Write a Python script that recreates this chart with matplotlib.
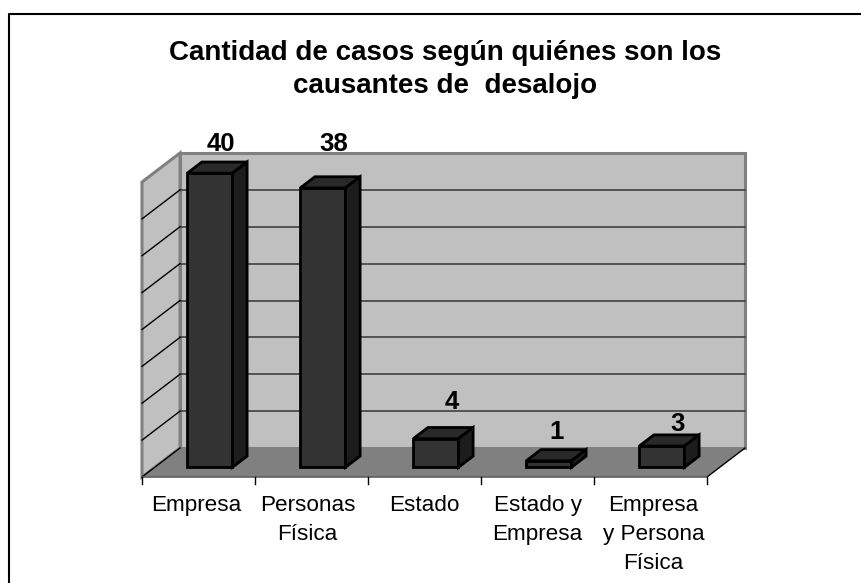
import matplotlib
matplotlib.use("Agg")
import matplotlib.pyplot as plt
from matplotlib.patches import Polygon

# datos
categorias = ["Empresa", "Personas\nFísica", "Estado", "Estado y\nEmpresa", "Empresa\ny Persona\nFísica"]
casos = [40, 38, 4, 1, 3]
ticks_y = [0, 5, 10, 15, 20, 25, 30, 35, 40]
titulo = "Cantidad de casos según quiénes son los\ncausantes de  desalojo"

W, H = 861, 583
plt.rcParams['font.family'] = ['Liberation Sans', 'DejaVu Sans']

fig = plt.figure(figsize=(W / 100, H / 100), dpi=100)
# eje principal: x en categorias, y en casos (plano frontal)
ax = fig.add_axes([142 / W, 1 - 477 / H, 565 / W, 295 / H])
ax.set_xlim(0, len(categorias))
ax.set_ylim(0, ticks_y[-1])
ax.axis("off")

# desplazamiento oblicuo de la profundidad total, en unidades de datos
DX = 38 / 113
DY = 40 * 29 / 295


def p(x, v, d):
    return (x + d * DX, v + d * DY)


def cara(puntos, **kw):
    ax.add_patch(Polygon(puntos, closed=True, clip_on=False, **kw))


n = len(categorias)
top = ticks_y[-1]

# paredes y piso
cara([p(0, 0, 1), p(n, 0, 1), p(n, top, 1), p(0, top, 1)], fc="#c0c0c0", ec="#808080", lw=2.2, zorder=1)
cara([p(0, 0, 0), p(0, 0, 1), p(0, top, 1), p(0, top, 0)], fc="#c0c0c0", ec="#808080", lw=2.2, zorder=1)
cara([p(0, 0, 0), p(n, 0, 0), p(n, 0, 1), p(0, 0, 1)], fc="#808080", ec="none", zorder=2)
ax.plot(*zip(p(n, 0, 0), p(n, 0, 1)), color="black", lw=1, zorder=2, clip_on=False)
ax.plot(*zip(p(0, 0, 0), p(0, 0, 1)), color="black", lw=1, zorder=2, clip_on=False)

# lineas de division
for t in ticks_y[1:-1]:
    ax.plot(*zip(p(0, t, 1), p(n, t, 1)), color="#404040", lw=1.2, zorder=1.5, clip_on=False)
    ax.plot(*zip(p(0, t, 0), p(0, t, 1)), color="black", lw=1, zorder=1.5, clip_on=False)

# eje x con marcas
ax.plot([0, n], [0, 0], color="#606060", lw=1.2, zorder=3, clip_on=False)
for i in range(n + 1):
    ax.plot([i, i], [0, -7 * 40 / 295], color="black", lw=1, zorder=3, clip_on=False)

# barras
ANCHO = 0.4
D0, D1 = 0.335, 0.72
# ajuste a mano de los rotulos, en pixeles
ajuste_rotulo = [(-5, 17), (-6, 32), (0, 24), (-9, 16), (-1, 10)]
ajuste_cat = [-2, -4, 0, 0, 3]
for i, v in enumerate(casos):
    x0 = i + 0.5 - ANCHO / 2 - 0.012
    x1 = x0 + ANCHO
    alto = v - 0.12
    estilo = dict(ec="black", lw=2, joinstyle="miter", zorder=4 + i)
    cara([p(x0, 0, D0), p(x1, 0, D0), p(x1, alto, D0), p(x0, alto, D0)], fc="#333333", **estilo)
    cara([p(x0, alto, D0), p(x1, alto, D0), p(x1, alto, D1), p(x0, alto, D1)], fc="#292929", **estilo)
    cara([p(x1, 0, D0), p(x1, 0, D1), p(x1, alto, D1), p(x1, alto, D0)], fc="#1c1c1c", **estilo)
    tx, ty = p(i + 0.5, v, 0.73)
    dx, dy = ajuste_rotulo[i]
    ax.annotate(str(v), (tx, ty), xytext=(dx * 0.72, dy * 0.72), textcoords="offset points", ha="center",
                va="center", fontsize=18.5, fontweight="bold", color="black", zorder=20, annotation_clip=False)

# etiquetas de categorias
for i, c in enumerate(categorias):
    ax.annotate(c, (i + 0.5, 0), xytext=(ajuste_cat[i] * 0.72, -13), textcoords="offset points", ha="center",
                va="top", fontsize=16.2, linespacing=1.5, color="black", annotation_clip=False)

# titulo
fig.text(445 / W, 1 - 69.5 / H, titulo, ha="center", va="center", fontsize=20, fontweight="bold",
         linespacing=1.35, color="black")

# marco exterior: solo arriba e izquierda, el resto queda fuera de la imagen
fig.add_artist(plt.Line2D([8.5 / W, 8.5 / W, 1], [0, 1 - 13.5 / H, 1 - 13.5 / H], transform=fig.transFigure,
                          color="black", lw=1.5))

fig.savefig("out.png", dpi=100)
